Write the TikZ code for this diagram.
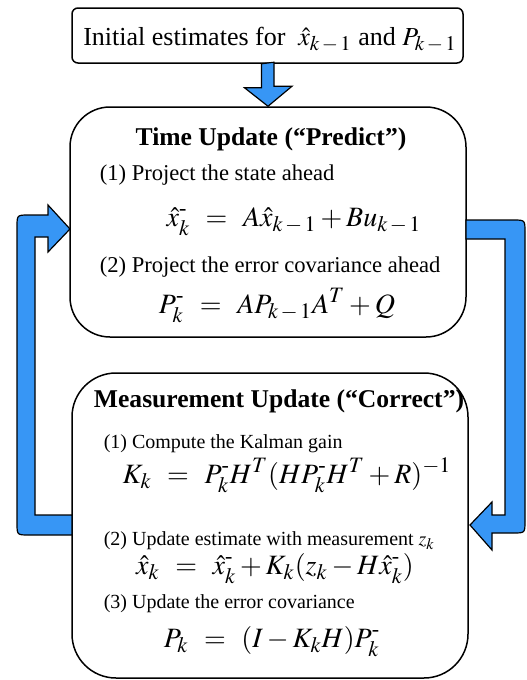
\documentclass[tikz,border=0pt]{standalone}
\usepackage{amsmath}
\usepackage{mathptmx}
\usepackage{fontspec}
\setmainfont{Liberation Serif}
\usetikzlibrary{calc}
\definecolor{azul}{RGB}{55,150,245}
\DeclareMathSizes{13}{13}{10.4}{8}
\DeclareMathSizes{14}{14}{11}{8.5}
\DeclareMathSizes{10}{10}{8}{6}
\newcommand{\mnos}{\text{-}}
\newcommand{\km}{k\,{-}\,1}
\newcommand{\igual}{\;\,=\;\,}

\begin{document}
\begin{tikzpicture}[x=0.5pt,y=-0.5pt,line width=0.75pt,
  caja/.style={draw,rounded corners=20pt,inner sep=0pt},
  flecha/.style={fill=azul,draw=black,line width=0.6pt,line join=miter},
  titulo/.style={anchor=base,inner sep=0pt,font=\fontsize{12.8}{16}\selectfont\bfseries},
  paso/.style={anchor=base west,inner sep=0pt,font=\fontsize{11.3}{14}\selectfont},
  pasob/.style={anchor=base west,inner sep=0pt,font=\fontsize{10}{12}\selectfont},
  ecua/.style={anchor=base,inner sep=0pt,font=\fontsize{14}{17}\selectfont}]
  \useasboundingbox (0,0) rectangle (526,680);
  % cajas
  \node[draw,rounded corners=3pt,minimum width=195.5pt,minimum height=27.5pt] (init) at (267.5,35.5) {};
  \node[caja,minimum width=198pt,minimum height=115pt] (time) at (268,222) {};
  \node[caja,rounded corners=22pt,minimum width=198pt,minimum height=152.5pt] (meas) at (270,525.5) {};
  \node[anchor=base,inner sep=0pt,font=\fontsize{13}{16}\selectfont] (initt) at (270,45)
    {Initial estimates for~ $\hat{x}_{\km}$ and $P_{\km}$};
  % prediccion
  \node[titulo] (tit1) at (271,145) {Time Update (“Predict”)};
  \node[paso] (p1) at (99,180) {(1) Project the state ahead};
  \node[ecua] (e1) at (294,226) {$\hat{x}^{\mnos}_{k} \igual A\hat{x}_{\km} + Bu_{\km}$};
  \node[paso] (p2) at (99,272) {(2) Project the error covariance ahead};
  \node[ecua] (e2) at (277,313) {$P^{\mnos}_{k} \igual AP_{\km}A^{T} + Q$};
  % correccion
  \node[titulo] (tit2) at (279,407) {Measurement Update (“Correct”)};
  \node[pasob] (c1) at (103,448) {(1) Compute the Kalman gain};
  \node[ecua] (e3) at (287,483) {$K_{k} \igual P^{\mnos}_{k}H^{T}(HP^{\mnos}_{k}H^{T}+R)^{-1}$};
  \node[pasob] (c2) at (103,545) {(2) Update estimate with measurement $z_{k}$};
  \node[ecua] (e4) at (275,574) {$\hat{x}_{k} \igual \hat{x}^{\mnos}_{k} + K_{k}(z_{k}-H\hat{x}^{\mnos}_{k})$};
  \node[pasob] (c3) at (103,608) {(3) Update the error covariance};
  \node[ecua] (e5) at (272,647) {$P_{k} \igual (I-K_{k}H)P^{\mnos}_{k}$};
  % flechas azules
  \draw[flecha] ($(init.south)+(-6,0)$) -- ++(0,24) -- ++(-17,0) -- (time.north)
    -- ++(24,-20) -- ++(-18,0) -- ++(0,-24) -- cycle;
  \draw[flecha] (466,220) -- (513,220) .. controls (525,220) .. (525,232) -- (525,521)
    .. controls (525,533) .. (513,533) -- (492,533) -- (492,550) -- (470,525)
    -- (492,502) -- (492,515) -- (505,515) -- (505,239) -- (466,239) -- cycle;
  \draw[flecha] (72,515) -- (35,515) -- (35,237) -- (48,237) -- (48,252) -- (70,229)
    -- (48,205) -- (48,215) -- (29,215) .. controls (17,215) .. (17,227) -- (17,523)
    .. controls (17,535) .. (29,535) -- (72,535) -- cycle;
\end{tikzpicture}
\end{document}
